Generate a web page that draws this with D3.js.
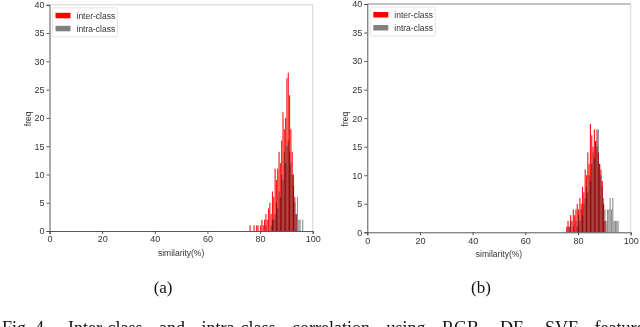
<!DOCTYPE html>
<html>
<head>
<meta charset="utf-8">
<script src="https://cdn.jsdelivr.net/npm/d3@7"></script>
<style>
  body { margin: 0; background: #fff; overflow: hidden; }
  svg { display: block; }
  .tick text { font-family: "Liberation Sans", Arial, sans-serif; font-size: 9px; fill: #333; }
  .lbl { font-family: "Liberation Sans", Arial, sans-serif; font-size: 8.5px; fill: #333; }
  .cap { font-family: "Liberation Serif", "Times New Roman", serif; fill: #111; }
</style>
</head>
<body>
<svg id="chart" width="640" height="327"></svg>
<script>
'use strict'

// histogram bins (left edge, in %), bin width 0.5
const binWidth = 0.5
const binsA = [76, 76.5, 77, 77.5, 78, 78.5, 79, 79.5, 80, 80.5, 81, 81.5, 82, 82.5, 83, 83.5, 84, 84.5, 85, 85.5,
  86, 86.5, 87, 87.5, 88, 88.5, 89, 89.5, 90, 90.5, 91, 91.5, 92, 92.5, 93, 93.5, 94, 94.5, 95, 95.5, 96]
const interA = [1, 0, 0, 1, 0, 1, 1, 0, 1, 2, 1, 2, 3, 2, 4, 5, 3, 7, 6, 11,
  9, 11, 14, 12, 16, 21, 18, 20, 27, 28, 24, 18, 14, 10, 6, 3, 0, 0, 0, 0, 0]
const intraA = [0, 0, 0, 0, 0, 0, 0, 0, 0, 0, 0, 0, 1, 0, 0, 0, 1, 2, 2, 3,
  5, 4, 7, 6, 10, 9, 14, 12, 15, 16, 14, 12, 10, 8, 5, 3, 6, 2, 2, 0, 2]

const binsB = [75.5, 76, 76.5, 77, 77.5, 78, 78.5, 79, 79.5, 80, 80.5, 81, 81.5, 82, 82.5, 83, 83.5, 84, 84.5, 85,
  85.5, 86, 86.5, 87, 87.5, 88, 88.5, 89, 89.5, 90, 90.5, 91, 91.5, 92, 92.5, 93, 93.5, 94, 94.5, 95, 95.5]
const interB = [1, 2, 1, 3, 2, 4, 3, 4, 5, 4, 6, 5, 8, 7, 11, 10, 14, 12, 19, 17,
  15, 18, 16, 18, 14, 12, 11, 9, 5, 2, 0, 0, 0, 0, 0, 0, 0, 0, 0, 0, 0]
const intraB = [0, 1, 0, 2, 0, 1, 0, 2, 1, 3, 2, 4, 3, 5, 6, 8, 7, 10, 9, 12,
  14, 13, 16, 15, 18, 12, 10, 8, 6, 4, 2, 4, 4, 6, 4, 6, 2, 2, 2, 2, 0]

const xTicks = [0, 20, 40, 60, 80, 100]
const yTicks = [0, 5, 10, 15, 20, 25, 30, 35, 40]
const seriesNames = ['inter-class', 'intra-class']
const seriesColors = ['#ff0000', '#808080']

const svg = d3.select('#chart')

function drawPanel(bins, inter, intra, box, capLabel) {
  const x = d3.scaleLinear().domain([0, 100]).range([box.left, box.right])
  const y = d3.scaleLinear().domain([0, 40]).range([box.bottom, box.top])
  const g = svg.append('g')

  // inter-class bars
  g.append('g').selectAll('rect')
    .data(bins.map((b, i) => ({ b: b, c: inter[i] })).filter(d => d.c > 0))
    .enter().append('rect')
      .attr('x', d => x(d.b))
      .attr('width', d => x(d.b + binWidth) - x(d.b) - 0.2)
      .attr('y', d => y(d.c))
      .attr('height', d => y(0) - y(d.c))
      .attr('fill', seriesColors[0])
      .attr('fill-opacity', 0.92)

  // intra-class bars, multiplied over the red ones -> dark red where they overlap
  g.append('g').selectAll('rect')
    .data(bins.map((b, i) => ({ b: b, c: intra[i] })).filter(d => d.c > 0))
    .enter().append('rect')
      .attr('x', d => x(d.b))
      .attr('width', d => x(d.b + binWidth) - x(d.b) - 0.2)
      .attr('y', d => y(d.c))
      .attr('height', d => y(0) - y(d.c))
      .attr('fill', seriesColors[1])
      .attr('fill-opacity', 0.88)
      .style('mix-blend-mode', 'multiply')

  // frame (top / right spines are lighter)
  g.append('line').attr('x1', box.left).attr('x2', box.right).attr('y1', box.top).attr('y2', box.top)
    .attr('stroke', box.topColor).attr('stroke-width', 0.8)
  g.append('line').attr('x1', box.right).attr('x2', box.right).attr('y1', box.top).attr('y2', box.bottom)
    .attr('stroke', '#c8c8c8').attr('stroke-width', 0.8)

  g.append('g')
    .attr('transform', 'translate(0,' + box.bottom + ')')
    .call(d3.axisBottom(x).tickValues(xTicks).tickSize(3).tickPadding(2))
  g.append('g')
    .attr('transform', 'translate(' + box.left + ',0)')
    .call(d3.axisLeft(y).tickValues(yTicks).tickSize(3).tickPadding(2))
  g.selectAll('.domain, .tick line').attr('stroke', '#444').attr('stroke-width', 0.9)

  // axis labels
  g.append('text').attr('class', 'lbl')
    .attr('x', (box.left + box.right) / 2).attr('y', box.bottom + 25)
    .attr('text-anchor', 'middle').text('similarity(%)')
  g.append('text').attr('class', 'lbl')
    .attr('transform', 'translate(' + (box.left - 19) + ',' + ((box.top + box.bottom) / 2 + 1) + ') rotate(-90)')
    .attr('text-anchor', 'middle').text('freq')

  // legend
  const lg = g.append('g').attr('transform', 'translate(' + (box.left + 3) + ',' + (box.top + 3) + ')')
  lg.append('rect').attr('width', 65).attr('height', 29).attr('rx', 2)
    .attr('fill', '#fff').attr('stroke', '#ddd').attr('stroke-width', 0.8)
  seriesNames.forEach((name, i) => {
    lg.append('rect').attr('x', 3).attr('y', 5 + i * 13).attr('width', 15).attr('height', 5.5)
      .attr('fill', seriesColors[i])
    lg.append('text').attr('class', 'lbl').attr('x', 24).attr('y', 11 + i * 13).text(name)
  })

  // sub caption
  svg.append('text').attr('class', 'cap')
    .attr('x', (box.left + box.right) / 2 - 18).attr('y', 293)
    .attr('text-anchor', 'middle').attr('font-size', 17).text(capLabel)
}

drawPanel(binsA, interA, intraA, { left: 49.5, right: 312.7, top: 4.8, bottom: 231, topColor: '#c8c8c8' }, '(a)')
drawPanel(binsB, interB, intraB, { left: 367.3, right: 630.7, top: 4, bottom: 232.3, topColor: '#666' }, '(b)')

// figure caption (justified in the paper; its lower part runs off the bottom edge)
svg.append('text').attr('class', 'cap').attr('font-size', 18)
  .attr('x', 2).attr('y', 334).text('Fig. 4.')
svg.append('text').attr('class', 'cap').attr('font-size', 18)
  .attr('x', 68).attr('y', 334).attr('word-spacing', 12)
  .text('Inter-class and intra-class correlation using RGB, DE, SVF features')
</script>
</body>
</html>
